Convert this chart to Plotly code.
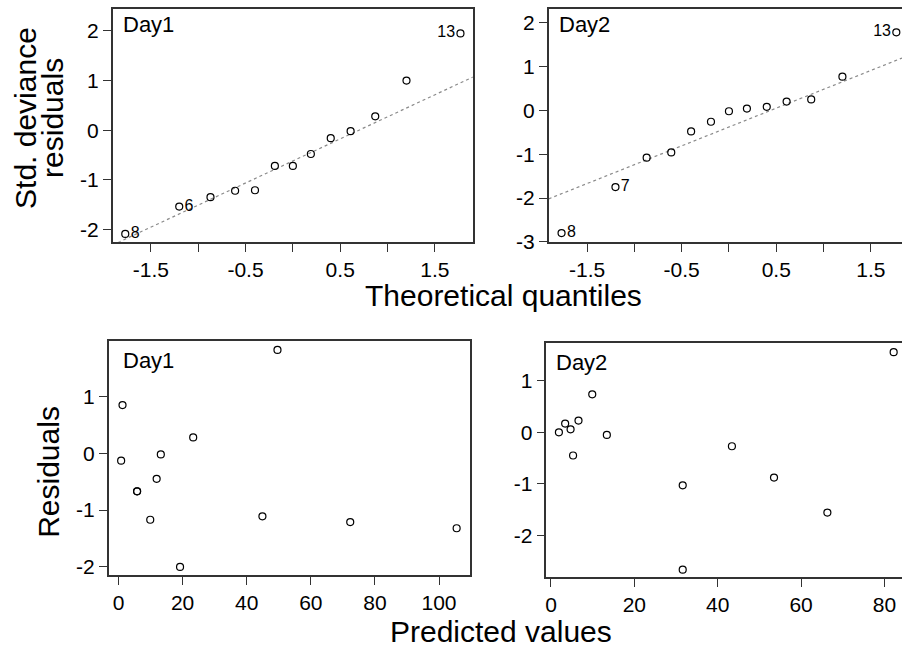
import numpy as np
import plotly.graph_objects as go

# ---------------- data ----------------
theo_q = [-1.77, -1.20, -0.87, -0.61, -0.40, -0.19, 0.0, 0.19, 0.40, 0.61, 0.87, 1.20, 1.77]
day1_qq = [-2.09, -1.54, -1.35, -1.22, -1.21, -0.72, -0.72, -0.48, -0.16, -0.02, 0.28, 1.00, 1.95]
day2_qq = [-2.80, -1.75, -1.08, -0.96, -0.48, -0.26, -0.02, 0.04, 0.08, 0.20, 0.25, 0.77, 1.78]
day1_qq_labels = ["8", "6", "", "", "", "", "", "", "", "", "", "", "13"]
day2_qq_labels = ["8", "7", "", "", "", "", "", "", "", "", "", "", "13"]

day1_pred = [1.25, 0.82, 5.8, 5.8, 9.9, 11.9, 13.2, 19.2, 23.3, 44.9, 49.6, 72.3, 105.5]
day1_resid = [0.85, -0.13, -0.67, -0.67, -1.17, -0.45, -0.02, -2.00, 0.28, -1.11, 1.82, -1.21, -1.32]
day2_pred = [1.9, 3.4, 4.7, 5.3, 6.6, 9.9, 13.4, 31.6, 31.6, 43.4, 53.5, 66.3, 82.2]
day2_resid = [0.00, 0.17, 0.06, -0.45, 0.23, 0.74, -0.05, -1.03, -2.67, -0.27, -0.88, -1.56, 1.56]

# tick values / labels
qq_xticks = [-1.5, -1, -0.5, 0, 0.5, 1, 1.5]
qq_xticktext = ["-1.5", "", "-0.5", "", "0.5", "", "1.5"]
qq1_yticks = [-2, -1, 0, 1, 2]
qq1_yticktext = ["-2", "-1", "0", "1", "2"]
qq2_yticks = [-3, -2, -1, 0, 1, 2]
qq2_yticktext = ["-3", "-2", "-1", "0", "1", "2"]
res1_xticks = [0, 20, 40, 60, 80, 100]
res2_xticks = [0, 20, 40, 60, 80]
res_yticks = [-2, -1, 0, 1]
res_yticktext = ["-2", "-1", "0", "1"]
panel_names = ["Day1", "Day2", "Day1", "Day2"]

# ---------------- layout geometry ----------------
W, H = 902, 651
FONT = "Liberation Sans, Arial, sans-serif"


def px_dom_x(a, b):
    return [a / W, min(b / W, 1.0)]


def px_dom_y(top, bottom):
    return [1 - bottom / H, 1 - top / H]


doms = {
    1: (px_dom_x(111.7, 472.3), px_dom_y(9.3, 246)),
    2: (px_dom_x(548.3, 902), px_dom_y(9.3, 246)),
    3: (px_dom_x(107.7, 469.3), px_dom_y(347.3, 585.3)),
    4: (px_dom_x(546, 902), px_dom_y(349.3, 587.3)),
}
xranges = {1: [-1.904, 1.90], 2: [-1.906, 1.83], 3: [-3.1, 109.6], 4: [-1.1, 84.2]}
yranges = {1: [-2.25, 2.44], 2: [-3.0, 2.31], 3: [-2.15, 1.97], 4: [-2.82, 1.73]}


def qqline(x_range, y):
    q1, q3 = np.percentile(y, [25, 75])
    z = 0.6744897501960817
    slope = (q3 - q1) / (2 * z)
    inter = (q1 + q3) / 2
    xs = np.array(x_range)
    return xs, inter + slope * xs


fig = go.Figure()

marker = dict(symbol="circle-open", size=7, color="black", line=dict(width=1.2, color="black"))

for i, (yv, labs) in enumerate([(day1_qq, day1_qq_labels), (day2_qq, day2_qq_labels)], start=1):
    xa = "x" if i == 1 else f"x{i}"
    ya = "y" if i == 1 else f"y{i}"
    lx, ly = qqline(xranges[i], yv)
    fig.add_trace(go.Scatter(x=lx, y=ly, mode="lines", xaxis=xa, yaxis=ya,
                             line=dict(color="#8a8a8a", width=1.2, dash="dot"),
                             hoverinfo="skip", showlegend=False))
    pos = ["middle right" if (k < 6) else "middle left" for k in range(len(labs))]
    fig.add_trace(go.Scatter(x=theo_q, y=yv, mode="markers+text", xaxis=xa, yaxis=ya,
                             text=labs, textposition=pos,
                             textfont=dict(family=FONT, size=16, color="black"),
                             marker=marker, cliponaxis=False, showlegend=False))

fig.add_trace(go.Scatter(x=day1_pred, y=day1_resid, mode="markers", xaxis="x3", yaxis="y3",
                         marker=marker, cliponaxis=False, showlegend=False))
fig.add_trace(go.Scatter(x=day2_pred, y=day2_resid, mode="markers", xaxis="x4", yaxis="y4",
                         marker=marker, cliponaxis=False, showlegend=False))

axis_common = dict(showgrid=False, zeroline=False, showline=True, linecolor="#333333",
                   linewidth=1.5, ticks="outside", ticklen=8, tickwidth=1.2, tickcolor="#333333",
                   tickfont=dict(family=FONT, size=21, color="black"), fixedrange=True)

layout = dict(width=W, height=H, margin=dict(l=0, r=0, t=0, b=0),
              paper_bgcolor="white", plot_bgcolor="white", showlegend=False)

for i in range(1, 5):
    xk = "xaxis" if i == 1 else f"xaxis{i}"
    yk = "yaxis" if i == 1 else f"yaxis{i}"
    xa = dict(axis_common, domain=doms[i][0], range=xranges[i],
              anchor=("y" if i == 1 else f"y{i}"), mirror=True, tickmode="array")
    ya = dict(axis_common, domain=doms[i][1], range=yranges[i],
              anchor=("x" if i == 1 else f"x{i}"), mirror=(i in (1, 3)), tickmode="array")
    if i in (1, 2):
        xa.update(tickvals=qq_xticks, ticktext=qq_xticktext)
        if i == 1:
            ya.update(tickvals=qq1_yticks, ticktext=qq1_yticktext)
        else:
            ya.update(tickvals=qq2_yticks, ticktext=qq2_yticktext)
    elif i == 3:
        xa.update(tickvals=res1_xticks, ticktext=[str(v) for v in res1_xticks])
        ya.update(tickvals=res_yticks, ticktext=res_yticktext)
    else:
        xa.update(tickvals=res2_xticks, ticktext=[str(v) for v in res2_xticks])
        ya.update(tickvals=res_yticks, ticktext=res_yticktext)
    layout[xk] = xa
    layout[yk] = ya

annotations = []
for i, name in enumerate(panel_names, start=1):
    xr = "x domain" if i == 1 else f"x{i} domain"
    yr = "y domain" if i == 1 else f"y{i} domain"
    annotations.append(dict(text=name, xref=xr, yref=yr, x=0, y=1, xanchor="left", yanchor="top",
                            xshift=8 if i != 3 else 12, yshift=-1 if i in (1, 2) else -5,
                            showarrow=False, font=dict(family=FONT, size=22, color="black")))

title_font = dict(family=FONT, size=30, color="black")
annotations += [
    dict(text="Std. deviance", x=25 / W, y=1 - 120 / H, xref="paper", yref="paper", textangle=-90,
         showarrow=False, font=title_font, xanchor="center", yanchor="middle"),
    dict(text="residuals", x=52 / W, y=1 - 120 / H, xref="paper", yref="paper", textangle=-90,
         showarrow=False, font=title_font, xanchor="center", yanchor="middle"),
    dict(text="Residuals", x=48 / W, y=1 - 480 / H, xref="paper", yref="paper", textangle=-90,
         showarrow=False, font=title_font, xanchor="center", yanchor="middle"),
    dict(text="Theoretical quantiles", x=503 / W, y=1 - 301 / H, xref="paper", yref="paper",
         showarrow=False, font=title_font, xanchor="center", yanchor="middle"),
    dict(text="Predicted values", x=501 / W, y=1 - 642 / H, xref="paper", yref="paper",
         showarrow=False, font=title_font, xanchor="center", yanchor="middle"),
]
layout["annotations"] = annotations

fig.update_layout(**layout)
fig.write_html("out.html")
